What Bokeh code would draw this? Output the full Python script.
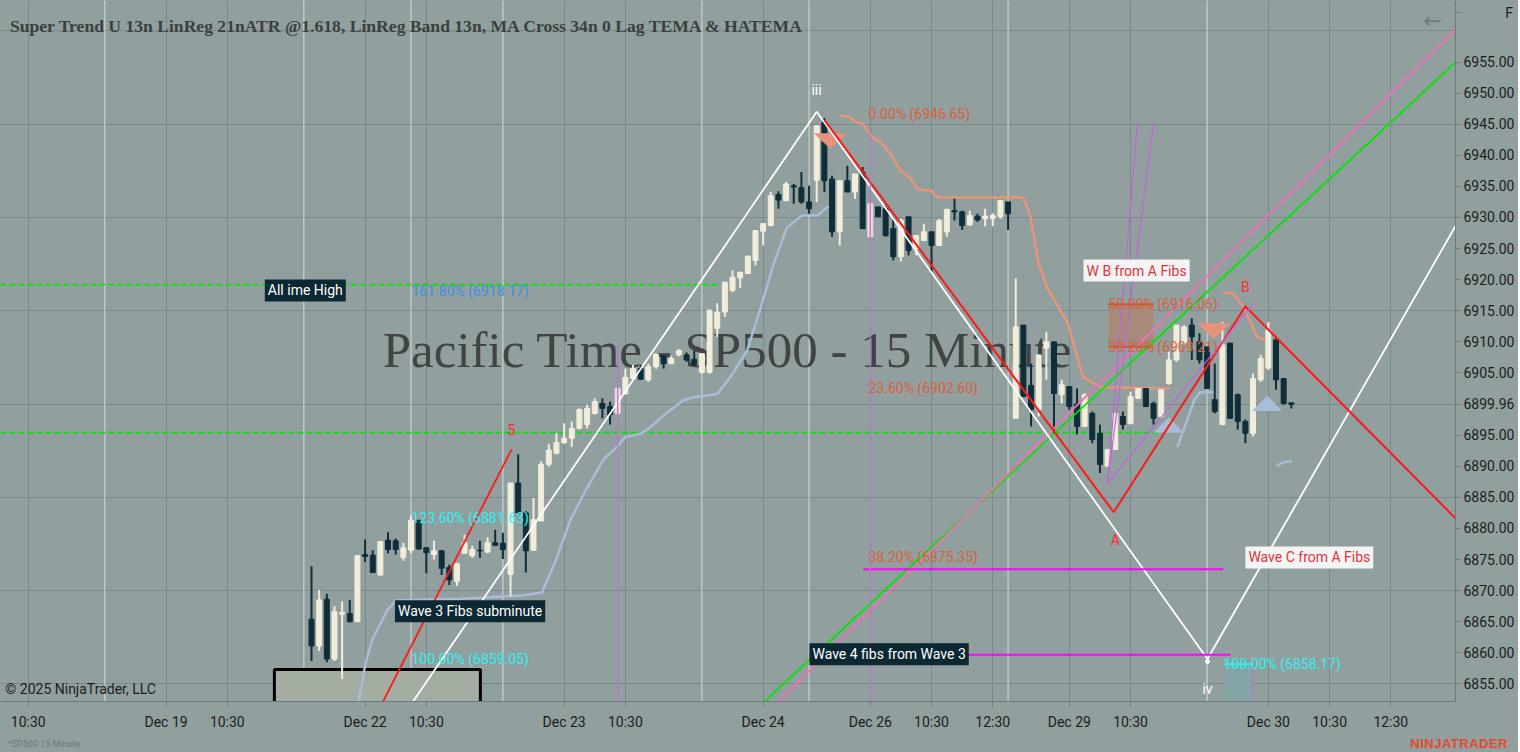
from bokeh.plotting import figure
from bokeh.models import Range1d, FixedTicker, Label, NumeralTickFormatter, ColumnDataSource, Div
from bokeh.layouts import column
from bokeh.embed import file_html
from bokeh.resources import INLINE
from bokeh.core.properties import value

# ---------------- data (15-minute bars, bar 0 = Dec 22 06:45 PT) ----------------
opens = [6865.4, 6861.1, 6868.6, 6859.0, 6866.2, 6866.3, 6865.0, 6875.8, 6875.7, 6872.5,
         6878.1, 6878.0, 6875.3, 6876.5, 6881.3, 6876.9, 6875.8, 6876.4, 6873.7, 6871.5,
         6876.0, 6875.6, 6876.5, 6876.2, 6877.7, 6877.6, 6872.6, 6887.3, 6882.5, 6876.5,
         6881.2, 6890.3, 6892.1, 6893.8, 6894.5, 6896.1, 6896.7, 6898.5, 6900.1, 6899.6,
         6898.5, 6901.7, 6904.1, 6905.7, 6903.9, 6906.0, 6907.7, 6906.5, 6907.9, 6907.9,
         6907.2, 6905.1, 6905.1, 6912.2, 6914.8, 6918.3, 6920.3, 6921.0, 6923.1, 6927.8,
         6928.7, 6933.7, 6932.7, 6935.1, 6934.8, 6932.5, 6936.0, 6945.3, 6936.2, 6927.7,
         6935.9, 6934.1, 6937.3, 6926.9, 6931.7, 6931.4, 6928.2, 6923.7, 6930.1, 6925.0,
         6926.3, 6927.7, 6925.5, 6927.7, 6931.1, 6930.9, 6928.8, 6930.2, 6929.8, 6929.8,
         6930.1, 6932.5, 6897.7, 6912.7, 6903.0, 6899.1, 6909.0, 6910.0, 6901.5, 6902.8,
         6900.0, 6896.4, 6898.5, 6895.3, 6890.0, 6892.7, 6898.0, 6896.9, 6900.9, 6902.5,
         6900.1, 6898.0, 6903.3, 6907.1, 6909.8, 6912.7, 6910.0, 6909.2, 6900.7, 6896.7,
         6909.8, 6901.5, 6897.2, 6895.3, 6903.9, 6905.8, 6910.3, 6904.1, 6900.2]
highs = [6873.9, 6870.1, 6869.5, 6867.5, 6868.3, 6868.5, 6875.7, 6878.2, 6876.5, 6877.9,
         6879.4, 6878.4, 6877.7, 6882.1, 6881.3, 6876.9, 6878.0, 6876.5, 6874.2, 6874.5,
         6879.0, 6877.2, 6878.0, 6878.6, 6879.8, 6879.3, 6887.3, 6891.9, 6882.8, 6884.9,
         6890.8, 6893.6, 6895.3, 6896.9, 6897.2, 6899.3, 6899.9, 6900.9, 6900.9, 6900.4,
         6902.8, 6905.7, 6906.3, 6906.3, 6906.5, 6908.2, 6907.9, 6907.7, 6908.8, 6908.3,
         6908.6, 6908.1, 6915.1, 6916.2, 6919.6, 6921.5, 6921.2, 6923.8, 6927.9, 6929.1,
         6934.1, 6934.2, 6935.7, 6935.4, 6937.3, 6935.1, 6944.75, 6946.0, 6936.7, 6935.9,
         6938.3, 6937.0, 6938.1, 6932.2, 6931.7, 6931.9, 6929.8, 6929.8, 6930.1, 6927.1,
         6929.0, 6927.7, 6929.8, 6931.4, 6933.0, 6931.1, 6931.1, 6930.6, 6931.4, 6930.7,
         6932.8, 6932.5, 6920.2, 6912.7, 6906.5, 6907.9, 6911.6, 6910.0, 6903.9, 6902.8,
         6902.5, 6901.7, 6898.8, 6896.7, 6892.7, 6898.5, 6898.8, 6902.0, 6902.5, 6902.5,
         6900.4, 6902.3, 6908.4, 6912.7, 6912.7, 6913.8, 6911.4, 6909.2, 6906.5, 6913.2,
         6909.8, 6901.7, 6897.5, 6904.9, 6907.9, 6913.2, 6910.6, 6904.1, 6900.2]
lows = [6858.7, 6860.3, 6858.5, 6858.7, 6855.8, 6864.9, 6865.0, 6874.6, 6872.9, 6872.4,
        6876.0, 6875.8, 6874.8, 6876.0, 6876.6, 6872.8, 6875.0, 6872.5, 6870.9, 6870.8,
        6876.0, 6875.3, 6875.3, 6876.0, 6877.2, 6875.1, 6869.1, 6882.5, 6872.9, 6876.4,
        6881.2, 6889.9, 6891.9, 6893.6, 6893.1, 6895.9, 6896.1, 6898.3, 6897.7, 6896.7,
        6898.3, 6901.5, 6903.9, 6903.9, 6903.6, 6905.7, 6905.7, 6906.4, 6907.7, 6906.8,
        6906.2, 6904.9, 6904.9, 6910.8, 6914.0, 6918.0, 6918.7, 6920.9, 6922.3, 6925.5,
        6928.6, 6931.4, 6932.6, 6932.2, 6932.2, 6930.6, 6932.5, 6934.1, 6926.9, 6925.5,
        6934.1, 6933.0, 6928.2, 6926.9, 6930.1, 6926.9, 6923.1, 6922.9, 6923.9, 6923.9,
        6926.3, 6921.2, 6925.4, 6926.9, 6929.5, 6928.0, 6928.7, 6929.3, 6928.6, 6928.6,
        6929.8, 6928.0, 6897.7, 6901.2, 6896.4, 6898.0, 6903.9, 6895.3, 6900.1, 6899.1,
        6895.1, 6896.4, 6893.7, 6888.9, 6890.0, 6892.7, 6895.9, 6896.7, 6900.9, 6899.6,
        6896.7, 6897.7, 6903.1, 6906.8, 6909.5, 6907.1, 6906.5, 6902.5, 6898.5, 6896.7,
        6897.7, 6895.9, 6893.7, 6894.8, 6903.6, 6905.5, 6902.3, 6899.9, 6899.3]
closes = [6861.1, 6868.5, 6859.0, 6866.6, 6866.5, 6865.0, 6875.6, 6875.5, 6872.9, 6877.9,
          6876.6, 6876.6, 6876.9, 6881.3, 6876.7, 6876.1, 6876.4, 6873.6, 6871.7, 6874.3,
          6877.7, 6876.6, 6876.4, 6877.7, 6877.3, 6876.6, 6887.3, 6882.5, 6876.4, 6881.4,
          6890.3, 6892.6, 6893.8, 6894.5, 6896.1, 6899.1, 6899.3, 6900.4, 6899.3, 6898.3,
          6902.5, 6904.3, 6905.7, 6904.0, 6906.0, 6908.0, 6906.5, 6907.3, 6908.6, 6907.1,
          6906.3, 6908.1, 6915.1, 6914.8, 6919.6, 6920.4, 6921.2, 6923.8, 6927.9, 6929.0,
          6933.5, 6932.8, 6935.4, 6934.9, 6932.5, 6931.4, 6944.75, 6935.9, 6927.7, 6935.9,
          6934.1, 6937.0, 6928.2, 6932.2, 6930.1, 6927.1, 6923.7, 6929.5, 6924.7, 6927.1,
          6927.7, 6925.5, 6929.5, 6931.3, 6930.9, 6928.7, 6930.3, 6929.6, 6930.2, 6930.3,
          6932.7, 6930.6, 6912.4, 6901.2, 6899.1, 6907.9, 6910.0, 6901.7, 6903.1, 6899.6,
          6896.4, 6901.5, 6894.3, 6890.3, 6892.7, 6898.5, 6896.7, 6901.2, 6902.5, 6899.6,
          6897.7, 6902.3, 6907.1, 6912.7, 6912.4, 6910.8, 6907.1, 6902.5, 6898.8, 6909.5,
          6897.7, 6897.2, 6895.3, 6904.1, 6907.3, 6911.9, 6903.9, 6900.1, 6899.96]
bars = list(range(len(closes)))
highlight_bars = [40, 73]

x_tick_bars = [-37, -19, -11, 7, 15, 33, 41, 59, 73, 81, 89, 99, 107, 125, 133, 141]
x_tick_labels = ["10:30", "Dec 19", "10:30", "Dec 22", "10:30", "Dec 23", "10:30", "Dec 24",
                 "Dec 26", "10:30", "12:30", "Dec 29", "10:30", "Dec 30", "10:30", "12:30"]
last_price = 6899.96
button_price = 6962.96
price_ticks = [6855, 6860, 6865, 6870, 6875, 6880, 6885, 6890, 6895, last_price, 6905, 6910,
               6915, 6920, 6925, 6930, 6935, 6940, 6945, 6950, 6955, button_price]
grid_prices = [6855, 6870, 6885, 6900, 6915, 6930, 6945, 6960]
session_bars = [-27, -1, 13, 25, 51, 65, 91, 117]

# SuperTrend (upper = down trend, lower = up trend)
st_dn1_x = [69.1, 70.4, 71.1, 72.0, 72.6, 73.3, 74.3, 75.6, 76.9, 78.2, 79.2, 80.9, 81.9,
            93.0, 93.9, 95.0, 96.1, 98.8, 100.8, 103.1, 112.2]
st_dn1_y = [6946.4, 6946.1, 6945.3, 6945.1, 6944.0, 6942.9, 6942.1, 6940.3, 6937.6, 6936.4,
            6934.5, 6934.3, 6933.2, 6933.2, 6930.3, 6922.6, 6918.7, 6913.0, 6904.3, 6902.7, 6902.5]
st_dn2_x = [119.1, 120.4, 121.8, 123.6, 124.9]
st_dn2_y = [6917.9, 6917.8, 6915.5, 6910.7, 6910.2]
st_up1_x = [5.6, 6.18, 7.05, 8.0, 9.9, 11.0, 19.5, 27.5, 30.1, 31.9, 33.8, 35.8, 38.2, 39.9,
            41.0, 43.0, 44.3, 46.5, 48.6, 49.9, 53.0, 54.7, 56.9, 58.7, 60.4, 62.1, 64.1,
            66.1, 67.4, 68.0]
st_up1_y = [6847.0, 6852.3, 6858.3, 6862.3, 6866.8, 6868.4, 6868.7, 6869.2, 6869.7, 6874.8,
            6881.3, 6886.1, 6891.2, 6893.1, 6894.7, 6895.2, 6896.3, 6898.7, 6900.6, 6901.1,
            6901.6, 6904.3, 6908.6, 6915.6, 6922.6, 6928.4, 6930.3, 6930.3, 6931.7, 6931.7]
st_up2_x = [113.1, 114.4, 115.3, 116.1, 117.9]
st_up2_y = [6893.1, 6897.4, 6900.6, 6901.9, 6901.9]
st_up3_x = [126.1, 127.0, 128.1]
st_up3_y = [6890.1, 6890.65, 6890.8]

sell_signal_x = [67.78, 117.87]
sell_signal_y = [6941.04, 6910.49]
buy_signal_x = [112.0, 124.85]
buy_signal_y = [6897.88, 6901.37]

# drawing tools
ath_price = 6919.2
ath_end_bar = 53.17
support_price = 6895.4
support_end_bar = 111.3
wave5_x = [7.0, 26.13]
wave5_y = [6846.5, 6892.7]
wave_white_x = [10.0, 66.0, 117.05, 152.0]
wave_white_y = [6846.3, 6947.0, 6859.0, 6934.1]
wave_red_x = [67.0, 104.8, 122.0, 151.0]
wave_red_y = [6945.7, 6882.6, 6915.7, 6879.7]
green_x = [57.0, 151.0]
green_y = [6849.7, 6956.7]
pink_x = [59.0, 151.0]
pink_y = [6849.7, 6962.1]
fan_origin = (104.0, 6887.2)
fan_x = [107.9, 110.0, 123.05]
fan_y = [6945.3, 6945.3, 6916.2]
magenta_levels = [6873.44, 6859.68]
magenta_x0 = [72.1, 65.06]
magenta_x1 = [119.1, 120.05]
time_line_bars = [40.0, 73.0, 122.9]
time_line_tops = [6909.1, 6943.5, 6858.3]

wave3_fib_levels = [6918.17, 6881.63, 6859.05]
wave3_fib_text = ["161.80% (6918.17)", "123.60% (6881.63)", "100.00% (6859.05)"]
wave3_fib_colors = ["#3f8fe4", "#2cf2f2", "#2cf2f2"]
wave3_fib_bar = 13.06
wave4_fib_levels = [6946.65, 6902.60, 6875.35]
wave4_fib_text = ["0.00% (6946.65)", "23.60% (6902.60)", "38.20% (6875.35)"]
wave4_fib_bar = 72.76
b_fib_levels = [6916.06, 6909.21]
b_fib_text = ["50.00% (6916.06)", "38.20% (6909.21)"]
b_fib_x = [104.1, 110.0]
c_fib_level = 6858.17
c_fib_text = "100.00% (6858.17)"
c_fib_x = [119.14, 123.05]
box_x = [-4.85, 22.06]
box_top = 6857.3

# ---------------- styling ----------------
BG = "#929f9f"
GRID = "#7a898e"
BULL = "#f1eddb"
BEAR = "#0f2e39"
PINK = "#f3d9e3"
ORANGE_TXT = "#d9613d"
FONT = "Roboto"

X0, X1 = -40.63, 149.45
Y0, Y1 = 6852.17, 6964.89

p = figure(frame_width=1455, frame_height=701, x_range=Range1d(X0, X1), y_range=Range1d(Y0, Y1),
           y_axis_location="right", output_backend="svg", toolbar_location=None,
           min_border_left=0, min_border_top=0, min_border_right=63, min_border_bottom=37,
           background_fill_color=BG, border_fill_color=BG, outline_line_color=None)

# axes
p.xaxis.ticker = FixedTicker(ticks=x_tick_bars)
p.xaxis.major_label_overrides = {t: l for t, l in zip(x_tick_bars, x_tick_labels)}
p.yaxis.ticker = FixedTicker(ticks=price_ticks)
p.yaxis.formatter = NumeralTickFormatter(format="0.00")
p.yaxis.major_label_overrides = {button_price: "\u00a0" * 12 + "F"}
for ax in (p.xaxis[0], p.yaxis[0]):
    ax.axis_line_color = "#6b7b80"
    ax.major_tick_line_color = "#6b7b80"
    ax.major_tick_out = 5
    ax.major_tick_in = 0
    ax.minor_tick_line_color = None
    ax.major_label_text_font = FONT
    ax.major_label_text_font_size = "14px"
    ax.major_label_text_color = "#1c1c1c"
p.xaxis.major_label_standoff = 7
p.yaxis.major_label_standoff = 3
p.xgrid.grid_line_color = GRID
p.ygrid.grid_line_color = GRID
p.ygrid.ticker = FixedTicker(ticks=grid_prices)

# session break lines
for b in session_bars:
    p.segment(x0=b, y0=Y0 - 10, x1=b, y1=Y1 + 10, line_color="#d3dcdc", line_width=1)

# watermark (behind bars)
p.text(x=[54.34], y=[6908.77], text=["Pacific Time - SP500 - 15 Minute"],
       text_font=value("Liberation Serif"), text_font_size="51px", text_color="#404444",
       text_align="center", text_baseline="middle")

# rectangles
p.quad(left=box_x[0], right=box_x[1], top=box_top, bottom=Y0 - 5,
       fill_color="#a4ada2", line_color="black", line_width=3)
p.quad(left=c_fib_x[0], right=c_fib_x[1], top=c_fib_level, bottom=Y0 - 5,
       fill_color="#86a5a6", line_color=None)
p.quad(left=b_fib_x[0], right=b_fib_x[1], top=b_fib_levels[0], bottom=b_fib_levels[1],
       fill_color="#a88a7b", line_color=None)

# horizontal dashed lines
p.segment(x0=X0, y0=ath_price, x1=ath_end_bar, y1=ath_price, line_color="#00e600",
          line_width=1.6, line_dash="6 3")
p.segment(x0=X0, y0=support_price, x1=support_end_bar, y1=support_price, line_color="#00e600",
          line_width=1.6, line_dash="6 3")

# SuperTrend lines
p.line(st_dn1_x, st_dn1_y, line_color="#e8957a", line_width=2.5)
p.line(st_dn2_x, st_dn2_y, line_color="#e8957a", line_width=2.5)
p.line(st_up1_x, st_up1_y, line_color="#a9bdd8", line_width=2.5)
p.line(st_up2_x, st_up2_y, line_color="#a9bdd8", line_width=2.5)
p.line(st_up3_x, st_up3_y, line_color="#a9bdd8", line_width=2.5)

# candles
colors = [PINK if i in highlight_bars else (BULL if c >= o else BEAR)
          for i, (o, c) in enumerate(zip(opens, closes))]
src = ColumnDataSource(dict(x=bars, o=opens, h=highs, l=lows, c=closes,
                            top=[max(o, c) for o, c in zip(opens, closes)],
                            bot=[min(o, c) for o, c in zip(opens, closes)], col=colors))
p.segment(x0="x", y0="l", x1="x", y1="h", line_color="col", line_width=2, source=src)
p.vbar(x="x", width=0.65, top="top", bottom="bot", fill_color="col", line_color="col",
       line_width=1, source=src)

# signal triangles
for sx, sy in zip(sell_signal_x, sell_signal_y):
    p.patch([sx - 2.18, sx + 2.18, sx], [sy + 2.5, sy + 2.5, sy], fill_color="#e8927a",
            line_color=None)
for bx, by in zip(buy_signal_x, buy_signal_y):
    p.patch([bx - 1.96, bx + 1.96, bx], [by - 2.5, by - 2.5, by], fill_color="#a9bdd8",
            line_color=None)

# drawing tools
p.line(green_x, green_y, line_color="#00e600", line_width=1.8)
p.line(pink_x, pink_y, line_color="#f070b8", line_width=1.8)
p.line(wave5_x, wave5_y, line_color="#ff1a1a", line_width=1.8)
p.line(wave_white_x, wave_white_y, line_color="white", line_width=1.8)
p.line(wave_red_x, wave_red_y, line_color="#ff1a1a", line_width=2)
for fx, fy in zip(fan_x, fan_y):
    p.line([fan_origin[0], fx], [fan_origin[1], fy], line_color="#c264dc", line_width=1.2)
for lvl, a, b in zip(magenta_levels, magenta_x0, magenta_x1):
    p.segment(x0=a, y0=lvl, x1=b, y1=lvl, line_color="#ff00ff", line_width=2)
for tb, tt in zip(time_line_bars, time_line_tops):
    p.segment(x0=tb, y0=Y0 - 5, x1=tb, y1=tt, line_color="#b877cc", line_width=1.3)
for lvl in b_fib_levels:
    p.segment(x0=b_fib_x[0], y0=lvl, x1=b_fib_x[1], y1=lvl, line_color="#d2552b", line_width=2)
p.segment(x0=c_fib_x[0], y0=c_fib_level, x1=c_fib_x[1], y1=c_fib_level, line_color="#22f2f2",
          line_width=2)
p.scatter([117.05], [6858.6], size=4, color="white")


def label(x, y, text, color, size="14px", font=FONT, align="left", baseline="middle",
          bg=None, bold=False, alpha=1.0, pad=4):
    kw = dict(x=x, y=y, text=text, text_color=color, text_font_size=size, text_font=font,
              text_align=align, text_baseline=baseline, text_alpha=alpha)
    if bg is not None:
        kw.update(background_fill_color=bg, background_fill_alpha=1.0, padding=pad)
    if bold:
        kw["text_font_style"] = "bold"
    p.add_layout(Label(**kw))


# fib labels
for lvl, t, c in zip(wave3_fib_levels, wave3_fib_text, wave3_fib_colors):
    label(wave3_fib_bar, lvl, t, c, baseline="alphabetic")
for lvl, t in zip(wave4_fib_levels, wave4_fib_text):
    label(wave4_fib_bar, lvl, t, ORANGE_TXT, baseline="alphabetic")
for lvl, t in zip(b_fib_levels, b_fib_text):
    label(b_fib_x[0], lvl, t, ORANGE_TXT, baseline="alphabetic")
label(c_fib_x[0], c_fib_level, c_fib_text, "#2cf2f2", baseline="alphabetic")

# text boxes
label(-6.1, 6918.26, "All ime High", "white", bg="#0b2833", pad=3)
label(10.9, 6866.67, "Wave 3 Fibs subminute", "white", bg="#0b2833", pad=3)
label(65.05, 6859.78, "Wave 4 fibs from Wave 3", "white", bg="#0b2833", pad=3)
label(100.85, 6921.47, "W B from A Fibs", "#e0343a", bg="#f4f4f4", pad=3)
label(122.0, 6875.33, "Wave C from A Fibs", "#e0343a", bg="#f4f4f4", pad=3)

# wave letters
label(65.97, 6950.42, "iii", "white", align="center")
label(117.05, 6854.1, "iv", "white", align="center")
label(105.0, 6878.06, "A", "#ff2a2a", align="center")
label(122.0, 6918.9, "B", "#ff2a2a", align="center")
label(26.13, 6895.86, "5", "#ff2a2a", align="center")

# chart texts
label(-39.4, 6960.71, "Super Trend U 13n LinReg 21nATR @1.618, LinReg Band 13n, MA Cross 34n 0 Lag TEMA & HATEMA",
      "#3b4040", size="17.6px", font="Liberation Serif", bold=True)
label(-40.0, 6854.26, "\u00a9 2025 NinjaTrader, LLC", "#1c1c1c", size="14px")
label(146.44, 6961.7, "\u2190", "#6d7d83", size="22px", font="DejaVu Sans", align="center")

footer = Div(
    text=('<div style="display:flex;justify-content:space-between;align-items:center;'
          'width:1508px;height:14px;padding-left:8px;position:relative;top:-3px;">'
          '<span style="font-family:Roboto;font-size:9px;color:#6c7b7b;">^SP500 15 Minute</span>'
          '<span style="font-family:\'Liberation Sans\';font-weight:bold;font-size:13px;'
          'color:#e8482a;letter-spacing:0.5px;">NINJATRADER</span></div>'),
    width=1518, height=14, margin=0, styles={"background-color": BG})

layout = column(p, footer, spacing=0, styles={"background-color": BG})
open("out.html", "w").write(file_html(layout, INLINE))
